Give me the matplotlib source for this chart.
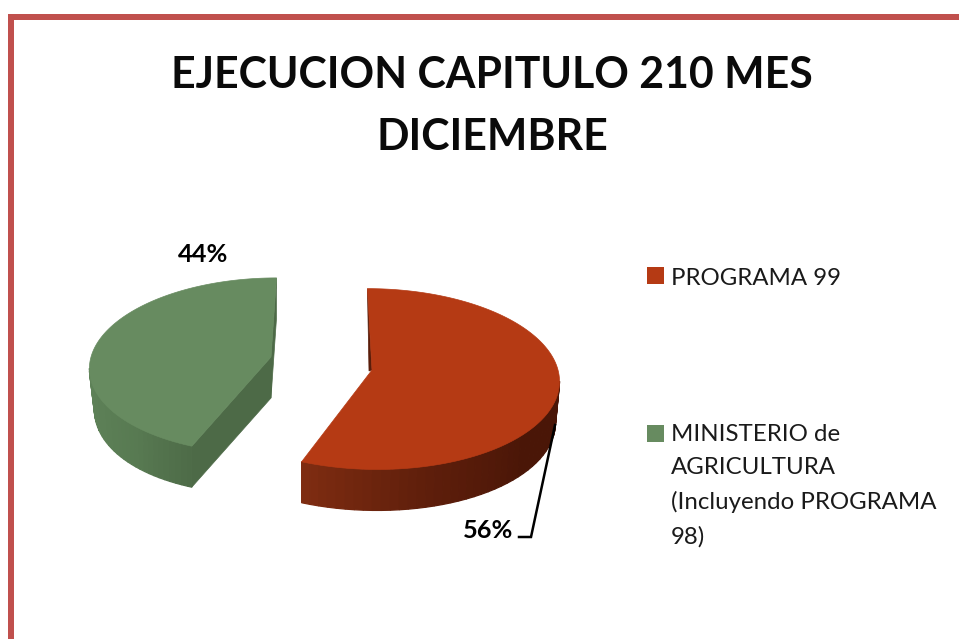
import numpy as np
import matplotlib
matplotlib.use("Agg")
import matplotlib.pyplot as plt
from matplotlib.colors import to_rgb
from matplotlib.patches import Polygon, Rectangle

# ---- data ----
categories = ["PROGRAMA 99", "MINISTERIO de\nAGRICULTURA\n(Incluyendo PROGRAMA\n98)"]
shares = [56, 44]
value_labels = ["56%", "44%"]
title_text = "EJECUCION CAPITULO 210 MES\nDICIEMBRE"

# ---- style ----
top_colors = ["#B53A14", "#678B60"]
face_colors = ["#5A1D0A", "#4D6A47"]
wall_stops = [["#7E2C11", "#5E1E0B", "#4A1607", "#4A1607"],
              ["#5F8359", "#5C7F56", "#587A52", "#4E6C48"]]
border_color = "#C0504D"
plt.rcParams["font.family"] = ["Lato", "DejaVu Sans"]

W, H = 959, 639
fig = plt.figure(figsize=(W / 100, H / 100), dpi=100)
ax = fig.add_axes([0, 0, 1, 1])
ax.set_xlim(0, W)
ax.set_ylim(H, 0)
ax.axis("off")

# frame
ax.add_patch(Rectangle((8, 14), 6, H - 14, fc=border_color, ec="none"))
ax.add_patch(Rectangle((8, 14), W - 8, 5.5, fc=border_color, ec="none"))

# pie projection
K, DEPTH = 0.10, 41
RX = [186, 180]
RY = [89.5, 87]
apexes = [(372, 370), (271, 357)]   # exploded slice centres
skews = [-5, 6]
tapers = [-4, 5]                    # sideways shift of the lower rim at the silhouette


def project(t, i):
    u, v = np.sin(t), np.cos(t)
    d = 1 + K * v
    return apexes[i][0] + (RX[i] * u + skews[i] * v) / d, apexes[i][1] - RY[i] * v / d


def ramp(stops, n):
    rgb = np.array([to_rgb(c) for c in stops])
    s = np.linspace(0, 1, len(stops))
    q = np.linspace(0, 1, n)
    return np.column_stack([np.interp(q, s, rgb[:, k]) for k in range(3)])


edges = np.cumsum([0] + shares) / sum(shares) * 2 * np.pi
for i in [1, 0]:
    t = np.linspace(edges[i], edges[i + 1], 240)
    x, y = project(t, i)
    # outer wall: only the part facing the viewer
    if i == 0:
        vis = np.arange(np.argmax(x), len(t))
    else:
        vis = np.arange(0, np.argmin(x) + 1)
    xv, yv = x[vis], y[vis]
    order = np.argsort(xv)
    xv, yv = xv[order], yv[order]
    # lower rim pulled in towards the silhouette
    frac = (xv - xv.min()) / (xv.max() - xv.min())
    frac = frac if i == 0 else 1 - frac
    xb = xv + tapers[i] * frac ** 2
    step = 3
    idx = np.r_[np.arange(0, len(xv) - 1, step), len(xv) - 1]
    cols = ramp(wall_stops[i], len(idx) - 1)
    for j in range(len(idx) - 1):
        a, b = idx[j], idx[j + 1]
        ax.add_patch(Polygon([(xv[a], yv[a]), (xv[b], yv[b]),
                              (xb[b], yv[b] + DEPTH), (xb[a], yv[a] + DEPTH)],
                             fc=cols[j], ec=cols[j], lw=0.9, zorder=2))
    # radial faces
    ax_, ay_ = apexes[i]
    if i == 1:
        for k in (0, -1):
            ax.add_patch(Polygon([(ax_, ay_), (x[k], y[k]), (x[k], y[k] + DEPTH), (ax_, ay_ + DEPTH)],
                                 fc=face_colors[i], ec=face_colors[i], lw=0.5, zorder=3))
    else:
        ax.add_patch(Polygon([(x[0], y[0]), (ax_, ay_), (ax_ - 3, ay_ + 1)],
                             fc=face_colors[i], ec=face_colors[i], lw=0.5, zorder=3))
    # top face
    ax.add_patch(Polygon(np.column_stack([np.r_[x, ax_], np.r_[y, ay_]]),
                         fc=top_colors[i], ec=top_colors[i], lw=0.5, zorder=4))

# leader line for the first slice
ax.plot([555, 531, 519], [425, 537, 537], color="black", lw=1.8, zorder=5,
        solid_joinstyle="miter")

# value labels
ax.text(488.5, 531, value_labels[0], ha="center", va="center", fontsize=18.3,
        fontweight="bold", color="black", zorder=6)
ax.text(203, 255, value_labels[1], ha="center", va="center", fontsize=18.3,
        fontweight="bold", color="black", zorder=6)

# title
ax.text(492, 106, title_text, ha="center", va="center", fontsize=30.8, fontweight="bold",
        color="#0A0A0A", linespacing=1.68)

# legend
legend_y = [267, 425]
legend_text_dy = [1, -1]
for cat, col, y0, dy in zip(categories, top_colors, legend_y, legend_text_dy):
    ax.add_patch(Rectangle((647, y0), 17, 17, fc=col, ec="none"))
    ax.text(671, y0 + dy, cat, ha="left", va="top", fontsize=17.3, color="#1A1A1A",
            linespacing=1.72)

fig.savefig("out.png", dpi=100, facecolor="white")
